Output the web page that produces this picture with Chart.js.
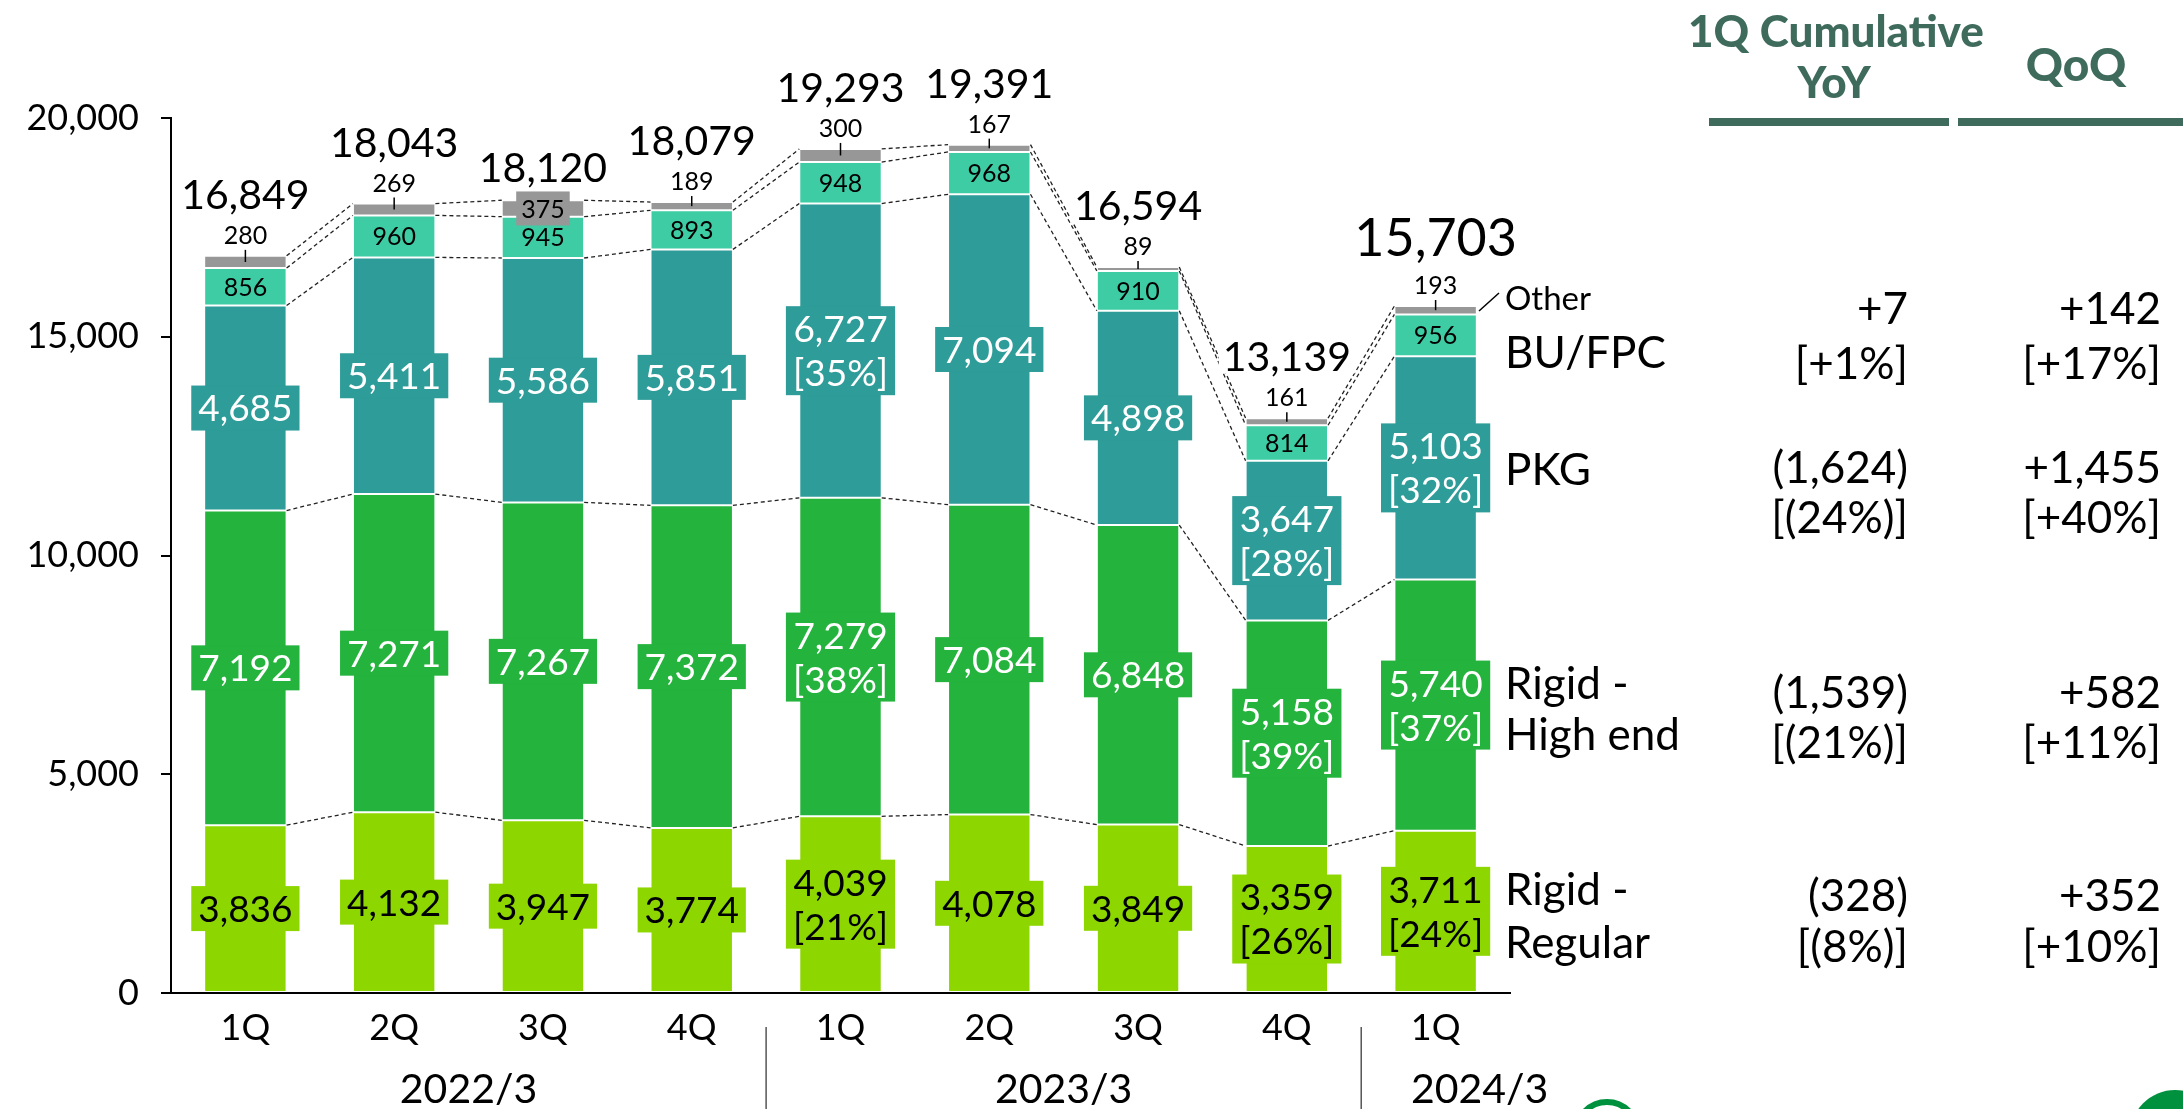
<!DOCTYPE html>
<html>
<head>
<meta charset="utf-8">
<script src="https://cdn.jsdelivr.net/npm/chart.js@4.4.0/dist/chart.umd.min.js"></script>
<style>
  html, body { margin: 0; padding: 0; background: #fff; }
  #wrap { position: relative; width: 2183px; height: 1109px; overflow: hidden; }
  canvas { display: block; }
  .ring { position: absolute; left: 1573px; top: 1099px; width: 56px; height: 56px; border: 6px solid #00913f; border-radius: 50%; }
  .dot { position: absolute; left: 2130px; top: 1090px; width: 90px; height: 90px; background: #00913f; border-radius: 50%; }
</style>
</head>
<body>
<div id="wrap">
  <canvas id="chart" width="2183" height="1109"></canvas>
  <div class="ring"></div>
  <div class="dot"></div>
</div>
<script>
// --- data ---
const quarters = ['1Q', '2Q', '3Q', '4Q', '1Q', '2Q', '3Q', '4Q', '1Q'];
const fiscalYears = ['2022/3', '2023/3', '2024/3'];
const yTicks = [0, 5000, 10000, 15000, 20000];

const rigidRegular = [3836, 4132, 3947, 3774, 4039, 4078, 3849, 3359, 3711];
const rigidHighEnd = [7192, 7271, 7267, 7372, 7279, 7084, 6848, 5158, 5740];
const pkg          = [4685, 5411, 5586, 5851, 6727, 7094, 4898, 3647, 5103];
const buFpc        = [856, 960, 945, 893, 948, 968, 910, 814, 956];
const other        = [280, 269, 375, 189, 300, 167, 89, 161, 193];

const seriesNames = ['Rigid -\nRegular', 'Rigid -\nHigh end', 'PKG', 'BU/FPC', 'Other'];
// right-hand table, bottom row first (Regular, High end, PKG, BU/FPC)
const yoyChange = ['(328)', '(1,539)', '(1,624)', '+7'];
const yoyRate   = ['[(8%)]', '[(21%)]', '[(24%)]', '[+1%]'];
const qoqChange = ['+352', '+582', '+1,455', '+142'];
const qoqRate   = ['[+10%]', '[+11%]', '[+40%]', '[+17%]'];

// bars that also show the share of the total
const pctBars = [4, 7, 8];

const series = [rigidRegular, rigidHighEnd, pkg, buFpc, other];
const totals = quarters.map((_, i) => series.reduce((s, arr) => s + arr[i], 0));

const colors = ['#8ed600', '#24b33d', '#2e9c98', '#3dcca4', '#979797'];
const FONT = 'Lato, "Noto Sans", sans-serif';
const fmt = v => v.toLocaleString('en-US');

function font(size, weight) { return (weight || 400) + ' ' + size + 'px ' + FONT; }

function labelBox(ctx, cx, cy, lines, size, bg, fg, padX, lineH) {
  ctx.font = font(size);
  const w = Math.max(...lines.map(l => ctx.measureText(l).width)) + padX * 2;
  const h = lineH * lines.length + 1;
  ctx.fillStyle = bg;
  ctx.fillRect(cx - w / 2, cy - h / 2, w, h);
  ctx.fillStyle = fg;
  ctx.textAlign = 'center';
  ctx.textBaseline = 'middle';
  lines.forEach((l, k) => {
    ctx.fillText(l, cx, cy - h / 2 + lineH * (k + 0.5) + 2);
  });
}

const overlay = {
  id: 'overlay',
  afterDatasetsDraw(chart) {
    const { ctx } = chart;
    const metas = series.map((_, i) => chart.getDatasetMeta(i));
    const n = quarters.length;

    // dashed connectors between neighbouring bars
    ctx.save();
    ctx.setLineDash([4, 3]);
    ctx.strokeStyle = '#222';
    ctx.lineWidth = 1.3;
    for (let k = 0; k < series.length; k++) {
      for (let i = 0; i < n - 1; i++) {
        const a = metas[k].data[i], b = metas[k].data[i + 1];
        ctx.beginPath();
        ctx.moveTo(a.x + a.width / 2, a.y);
        ctx.lineTo(b.x - b.width / 2, b.y);
        ctx.stroke();
      }
    }
    ctx.restore();

    ctx.save();
    // segment labels with boxes
    for (let k = 0; k < 3; k++) {
      metas[k].data.forEach((el, i) => {
        const v = series[k][i];
        const lines = [fmt(v)];
        if (pctBars.includes(i)) lines.push('[' + Math.round(v / totals[i] * 100) + '%]');
        const fg = k === 0 ? '#000' : '#fff';
        labelBox(ctx, el.x, (el.y + el.base) / 2, lines, 37, colors[k], fg, 7, 44);
      });
    }
    // BU/FPC labels
    ctx.font = font(25);
    ctx.fillStyle = '#000';
    ctx.textAlign = 'center';
    ctx.textBaseline = 'middle';
    metas[3].data.forEach((el, i) => {
      ctx.fillText(fmt(buFpc[i]), el.x, (el.y + el.base) / 2 + 1);
    });

    // Other labels + totals
    metas[4].data.forEach((el, i) => {
      const top = el.y;
      const mid = (el.y + el.base) / 2;
      let totalY;
      const boxed = i === 2;
      ctx.font = font(25);
      if (boxed) {
        const w = ctx.measureText(fmt(other[i])).width + 10;
        ctx.fillStyle = colors[4];
        ctx.fillRect(el.x - w / 2, mid - 17, w, 34);
        ctx.fillStyle = '#000';
        ctx.fillText(fmt(other[i]), el.x, mid + 1);
        totalY = top - 33;
      } else {
        ctx.strokeStyle = '#000';
        ctx.lineWidth = 1.5;
        ctx.beginPath();
        ctx.moveTo(el.x, mid);
        ctx.lineTo(el.x, top - 6);
        ctx.stroke();
        ctx.fillStyle = '#000';
        ctx.fillText(fmt(other[i]), el.x, top - 20);
        totalY = top - 62;
      }
      const big = i === n - 1;
      const size = big ? 52 : 41;
      if (big) totalY = top - 69;
      ctx.font = font(size);
      const tw = ctx.measureText(fmt(totals[i])).width;
      ctx.fillStyle = '#fff';
      ctx.fillRect(el.x - tw / 2 - 4, totalY - size * 0.42, tw + 8, size * 0.84);
      ctx.fillStyle = '#000';
      ctx.fillText(fmt(totals[i]), el.x, totalY + 2);
    });
    ctx.restore();
  },
  afterDraw(chart) {
    const { ctx, scales: { x } } = chart;
    ctx.save();
    // fiscal year groups
    const mid = (a, b) => (x.getPixelForTick(a) + x.getPixelForTick(b)) / 2;
    const yearX = [mid(1, 2), mid(5, 6), x.getPixelForTick(8) + 44];
    ctx.font = font(41);
    ctx.fillStyle = '#000';
    ctx.textAlign = 'center';
    ctx.textBaseline = 'middle';
    fiscalYears.forEach((t, j) => ctx.fillText(t, yearX[j], 1090));
    ctx.strokeStyle = '#555';
    ctx.lineWidth = 1.5;
    [mid(3, 4), mid(7, 8)].forEach(px => {
      ctx.beginPath();
      ctx.moveTo(px, 1027);
      ctx.lineTo(px, 1109);
      ctx.stroke();
    });

    // series names on the right
    const nameX = 1505;
    const nameY = [[889, 942], [683, 734], [469], [352]];
    ctx.textAlign = 'left';
    ctx.font = font(44);
    for (let k = 0; k < 4; k++) {
      seriesNames[k].split('\n').forEach((l, j) => ctx.fillText(l, nameX, nameY[k][j] + 2));
    }
    ctx.font = font(33);
    ctx.fillText(seriesNames[4], nameX, 299);
    ctx.strokeStyle = '#000';
    ctx.lineWidth = 1.5;
    ctx.beginPath();
    ctx.moveTo(1479, 311);
    ctx.lineTo(1499, 293);
    ctx.stroke();

    // YoY / QoQ columns
    const valY = [[895, 946], [692, 742], [467, 517], [308, 363]];
    ctx.font = font(44);
    ctx.textAlign = 'right';
    for (let k = 0; k < 4; k++) {
      ctx.fillText(yoyChange[k], 1908, valY[k][0] + 2);
      ctx.fillText(yoyRate[k], 1908, valY[k][1] + 2);
      ctx.fillText(qoqChange[k], 2161, valY[k][0] + 2);
      ctx.fillText(qoqRate[k], 2161, valY[k][1] + 2);
    }

    // headers
    const hc = '#3f6b5d';
    ctx.fillStyle = hc;
    ctx.textAlign = 'center';
    ctx.font = font(44, 900);
    ctx.fillText('1Q Cumulative', 1836, 33);
    ctx.fillText('YoY', 1834, 84);
    ctx.font = font(46, 900);
    ctx.fillText('QoQ', 2076, 66);
    ctx.fillRect(1709, 118, 240, 8);
    ctx.fillRect(1958, 118, 225, 8);
    ctx.restore();
  }
};

new Chart(document.getElementById('chart'), {
  type: 'bar',
  data: {
    labels: quarters,
    datasets: series.map((data, k) => ({
      label: seriesNames[k].replace('\n', ' '),
      data,
      backgroundColor: colors[k],
      borderColor: 'rgba(255,255,255,0.35)',
      borderWidth: 1,
      borderSkipped: false,
      categoryPercentage: 1,
      barPercentage: 0.554
    }))
  },
  options: {
    responsive: false,
    animation: false,
    layout: { padding: { top: 118, right: 673, bottom: 0, left: 0 } },
    plugins: { legend: { display: false }, tooltip: { enabled: false } },
    scales: {
      x: {
        stacked: true,
        grid: { display: false, drawTicks: false },
        border: { display: true, color: '#000', width: 2 },
        ticks: { color: '#000', font: { family: FONT, size: 36, weight: 400 }, padding: 14, maxRotation: 0 },
        afterFit: s => { s.height = 116; }
      },
      y: {
        stacked: true,
        min: 0,
        max: 20000,
        afterBuildTicks: s => { s.ticks = yTicks.map(v => ({ value: v })); },
        ticks: { color: '#000', font: { family: FONT, size: 36, weight: 400 }, padding: 22, callback: v => fmt(v) },
        grid: { drawOnChartArea: false, drawTicks: true, tickLength: 10, color: '#000', lineWidth: 2 },
        border: { display: true, color: '#000', width: 2 },
        afterFit: s => { s.width = 171; }
      }
    }
  },
  plugins: [overlay]
});
</script>
</body>
</html>
